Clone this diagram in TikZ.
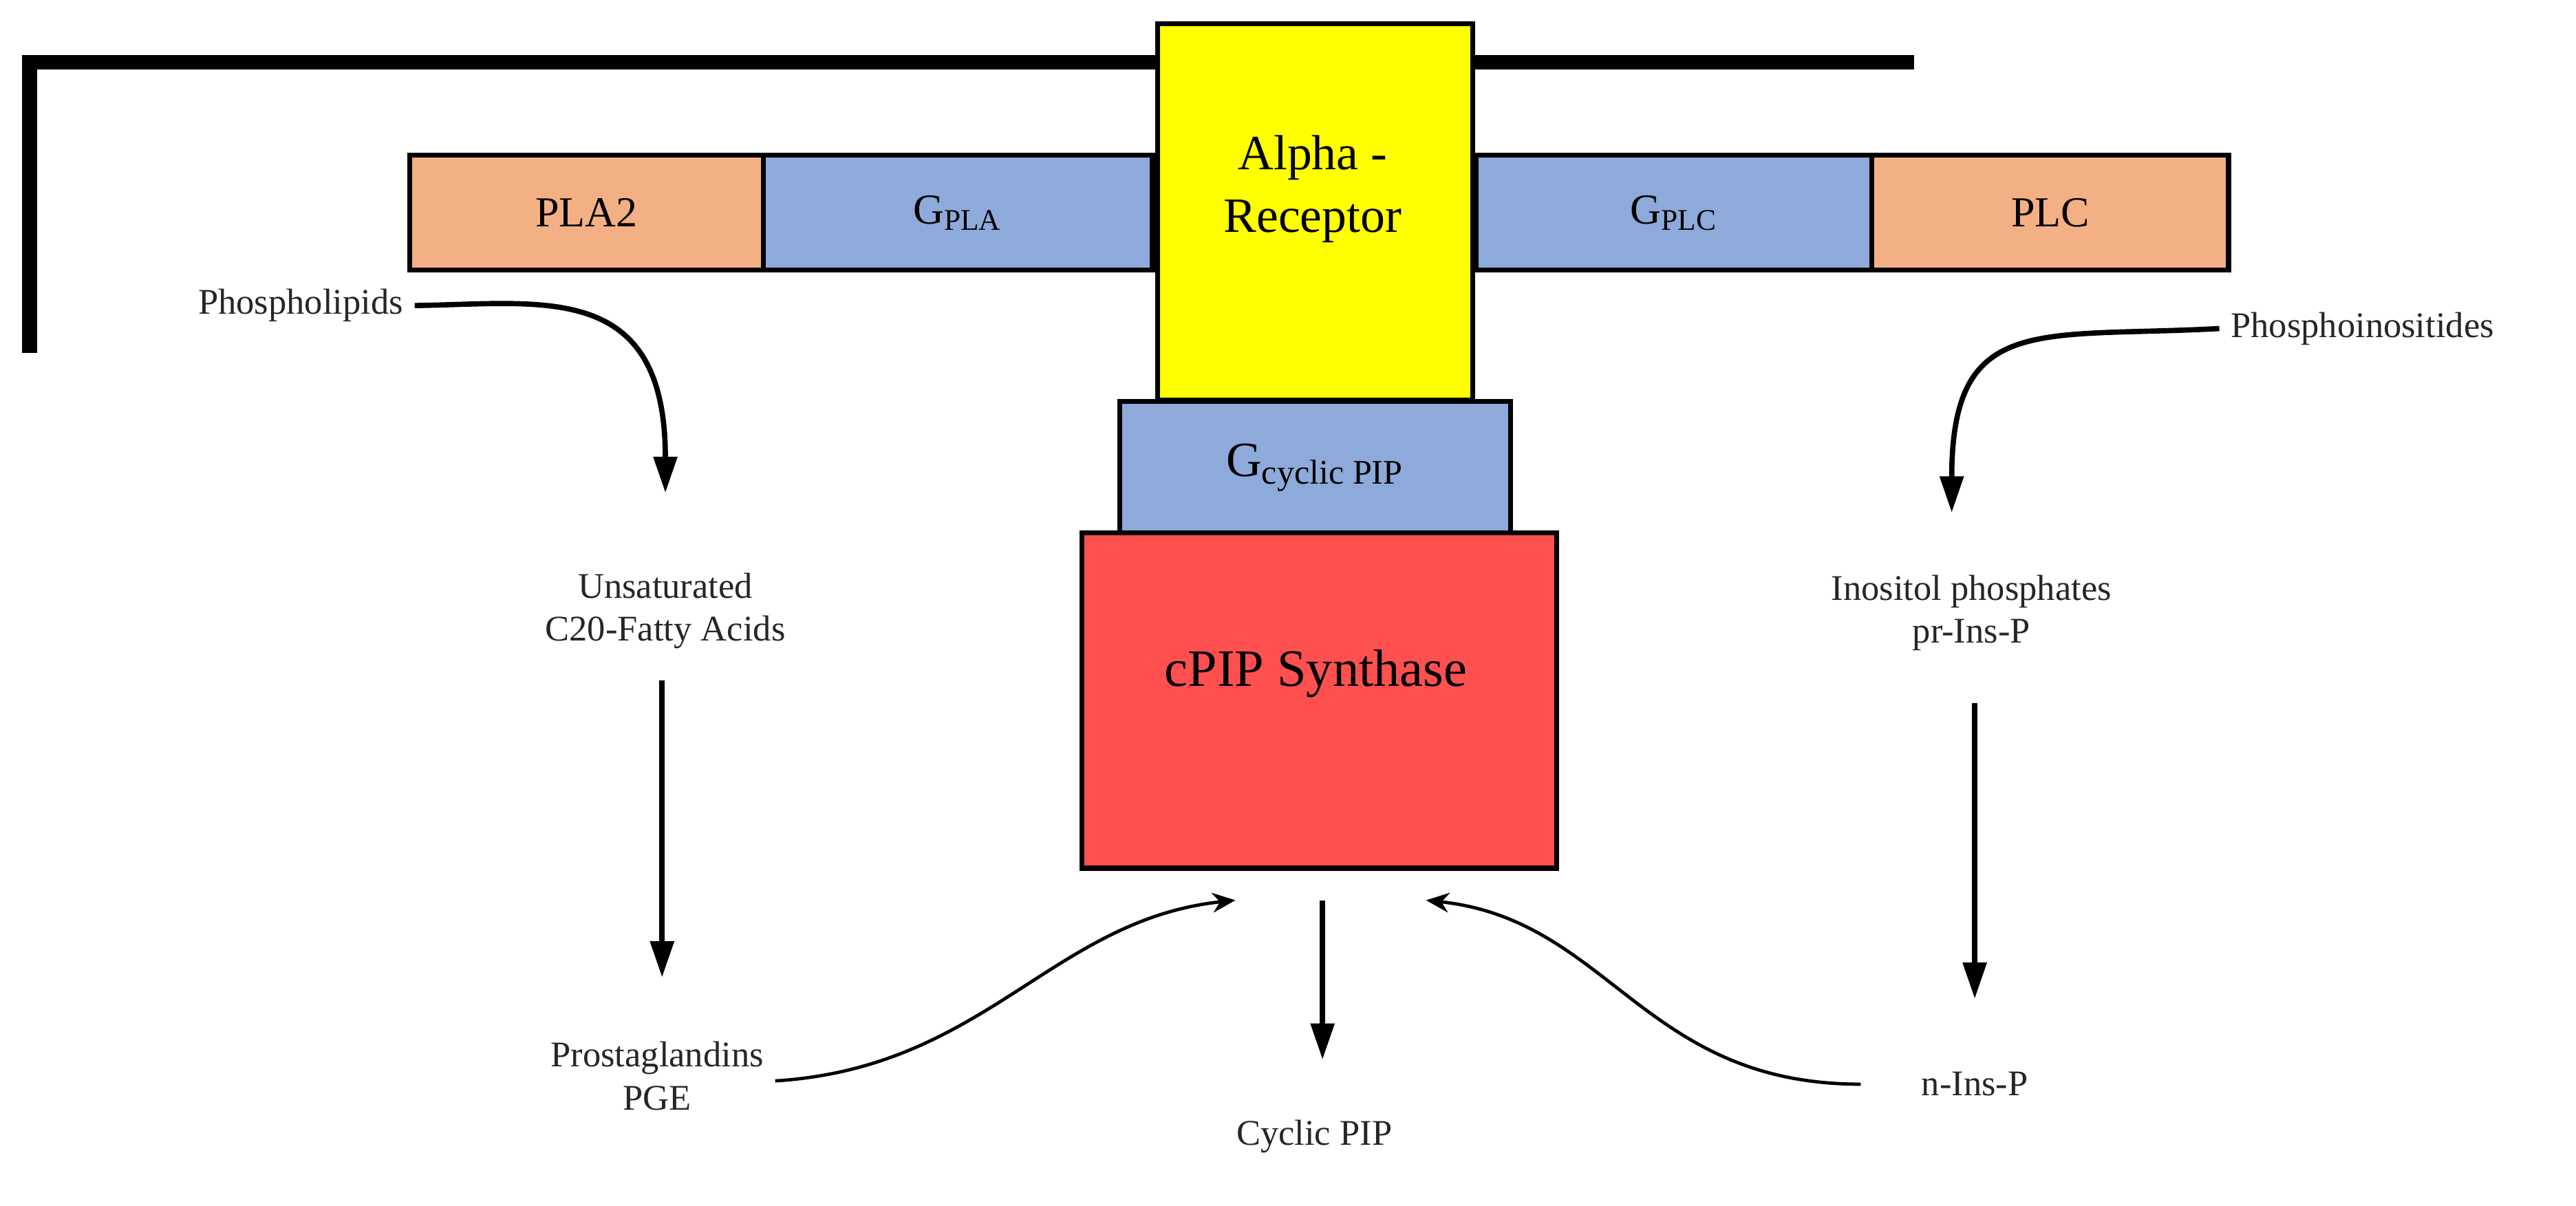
\documentclass[tikz,border=0pt]{standalone}
\usepackage{fontspec}
\setmainfont{Liberation Serif}
\usetikzlibrary{arrows.meta}
\begin{document}
\begin{tikzpicture}[x=0.5pt,y=-0.5pt,
  box/.style={draw=black,line width=1.5pt,anchor=north west,inner sep=0pt},
  lbl/.style={font=\fontsize{11}{13}\selectfont,align=center,text=black!85},
  arr/.style={line width=1.6pt,-{Triangle[length=11pt,width=7pt]}},
  carr/.style={line width=1pt,-{Stealth[length=7pt,width=6pt]}}]
\useasboundingbox (0,0) rectangle (1568,734);
\definecolor{orng}{RGB}{243,176,132}
\definecolor{blu}{RGB}{142,170,219}
\definecolor{yel}{RGB}{255,255,0}
\definecolor{rd}{RGB}{255,80,80}
% membrane
\coordinate (m1) at (18,215); \coordinate (m2) at (18,38); \coordinate (m3) at (1165,38);
\draw[line width=4.5pt] (m1) -- (m2) -- (m3);
% boxes
\node[box,fill=orng,minimum width=107.5pt,minimum height=35pt] (pla2) at (248,93) {};
\node[font=\fontsize{13}{15}\selectfont] at (pla2.center) {PLA2};
\node[box,fill=blu,minimum width=118.5pt,minimum height=35pt] (gpla) at (463,93) {};
\node[font=\fontsize{13}{15}\selectfont] at (gpla.center) {G\textsubscript{PLA}};
\node[box,fill=blu,minimum width=120.5pt,minimum height=35pt] (gplc) at (897,93) {};
\node[font=\fontsize{13}{15}\selectfont] at (gplc.center) {G\textsubscript{PLC}};
\node[box,fill=orng,minimum width=108.5pt,minimum height=35pt] (plc) at (1138,93) {};
\node[font=\fontsize{13}{15}\selectfont] at (plc.center) {PLC};
\node[box,fill=yel,minimum width=96pt,minimum height=114.5pt] (alpha) at (703,13) {};
\node[font=\fontsize{15}{19}\selectfont,align=center] at (799,115) {Alpha -\\Receptor};
\node[box,fill=blu,minimum width=119pt,minimum height=40pt] (gcyc) at (680,243) {};
\node[font=\fontsize{15}{17}\selectfont] at (gcyc.center) {G\textsubscript{cyclic PIP}};
\node[box,fill=rd,minimum width=144.5pt,minimum height=102pt] (syn) at (657,323) {};
\node[font=\fontsize{16}{18}\selectfont] at (801,410) {cPIP Synthase};
% texts
\node[lbl] (phl) at (183,186) {Phospholipids};
\node[lbl] (ufa) at (405,372) {Unsaturated\\C20-Fatty Acids};
\node[lbl] (pge) at (400,655) {Prostaglandins\\PGE};
\node[lbl] (phi) at (1438,200) {Phosphoinositides};
\node[lbl] (ins) at (1200,373) {Inositol phosphates\\pr-Ins-P};
\node[lbl] (nins) at (1202,660) {n-Ins-P};
\node[lbl] (cpip) at (800,692) {Cyclic PIP};
% arrows
\coordinate (cl) at (752,548); \coordinate (cr) at (868,548);
\draw[arr] (phl.east) .. controls (330,185) and (405,170) .. (405,300);
\draw[arr] (phi.west) .. controls (1240,206) and (1188,190) .. (1188,312);
\draw[arr] (ufa.south -| 403,0) ++(0,12) coordinate (a1) (a1) -- (403,595);
\draw[arr] (1202,428) coordinate (b1) -- (1202,608) coordinate (b2);
\draw[arr] (805,548) coordinate (c1) -- (805,645) coordinate (c2);
\draw[carr] (pge.east) ++(0,3) .. controls (600,650) and (640,560) .. (cl);
\draw[carr] (nins.west) ++(-30,0) .. controls (1000,660) and (980,560) .. (cr);
\end{tikzpicture}
\end{document}
